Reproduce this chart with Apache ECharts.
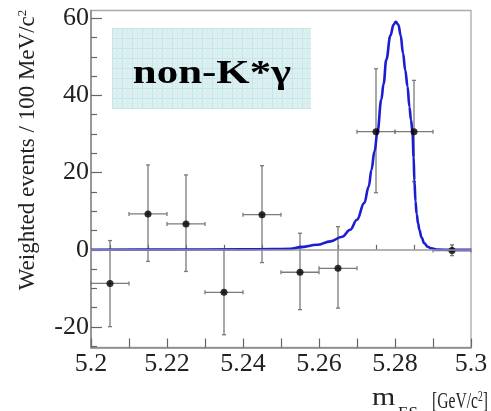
<!DOCTYPE html>
<html><head><meta charset="utf-8">
<script src="https://cdn.jsdelivr.net/npm/echarts@6/dist/echarts.min.js"></script>
<style>html,body{margin:0;padding:0;background:#fff}#c{width:491px;height:411px}</style>
</head><body><div id="c"></div><script>
// ---- data ----
const binCenters = [5.205, 5.215, 5.225, 5.235, 5.245, 5.255, 5.265, 5.275, 5.285, 5.295];
const values     = [-8.7, 9.3, 6.7, -11.0, 9.1, -5.8, -4.8, 30.6, 30.6, -0.2];
const errUp      = [11.1, 12.7, 12.7, 11.0, 12.7, 10.1, 10.8, 16.3, 13.3, 1.5];
const errDown    = [11.2, 12.3, 12.3, 11.0, 12.4, 9.7, 10.3, 15.8, 12.9, 1.3];
const binHalfWidth = 0.005;
const curveX = [5.200, 5.220, 5.240, 5.2480, 5.2525, 5.2551, 5.2595, 5.2630, 5.2661, 5.2682, 5.2700, 5.2719, 5.2731, 5.2738, 5.2746, 5.2754, 5.2764, 5.2770, 5.2777, 5.2788, 5.2796, 5.2802, 5.2809, 5.2815, 5.2821, 5.2827, 5.2833, 5.2838, 5.2842, 5.2846, 5.2849, 5.2851, 5.2854, 5.2857, 5.2861, 5.2864, 5.2870, 5.2877, 5.2886, 5.2895, 5.2912, 5.2950, 5.3000];
const curveY = [0.03, 0.06, 0.13, 0.2, 0.26, 0.7, 1.3, 2.2, 3.4, 5.2, 7.8, 12.1, 16.4, 20.7, 25.5, 30.6, 38.9, 43.0, 49.2, 55.5, 58.3, 59.1, 58.3, 55.5, 51.0, 46.5, 42.3, 37.0, 33.7, 30.6, 24.0, 18.0, 12.5, 9.3, 6.8, 5.2, 3.2, 1.7, 0.8, 0.4, 0.05, 0.0, 0.0];
const xLabelValues = [5.2, 5.22, 5.24, 5.26, 5.28, 5.3];
const xMajorTicks = [5.2, 5.21, 5.22, 5.23, 5.24, 5.25, 5.26, 5.27, 5.28, 5.29, 5.3];
const xMinorTicks = [5.205, 5.215, 5.225, 5.235, 5.245, 5.255, 5.265, 5.275, 5.285, 5.295];
const yLabelValues = [-20, 0, 20, 40, 60];
const yMinorTicks = [-25, -15, -10, -5, 5, 10, 15, 25, 30, 35, 45, 50, 55];
const xRange = [5.2, 5.3];
const yRange = [-25.3, 62];
const boxText = 'non-K*γ';

// ---- pattern for the label box ----
const pc = document.createElement('canvas');
pc.width = 10; pc.height = 10;
const g = pc.getContext('2d');
g.fillStyle = '#dcf0f2'; g.fillRect(0, 0, 10, 10);
g.fillStyle = '#c6e5e8'; g.fillRect(0, 0, 10, 1); g.fillRect(0, 0, 1, 10);
g.fillStyle = '#d3ecee'; g.fillRect(0, 5, 10, 1); g.fillRect(5, 0, 1, 10);

const chart = echarts.init(document.getElementById('c'), null, {renderer: 'canvas'});
const serif = '"Liberation Serif", "DejaVu Serif", serif';
const barData = binCenters.map((x, i) => [x, values[i], values[i] - errDown[i], values[i] + errUp[i], binHalfWidth]);
const curveData = curveX.map((x, i) => [x, curveY[i]]);
const pointData = binCenters.map((x, i) => [x, values[i]]);

const fmtX = v => String(+(+v).toFixed(2));

chart.setOption({
  animation: false,
  backgroundColor: '#fff',
  grid: {left: 91, right: 20, top: 10.5, bottom: 63.5, show: true, borderColor: '#aaa', borderWidth: 1.3, backgroundColor: 'transparent'},
  xAxis: [{
    type: 'value', min: xRange[0], max: xRange[1], position: 'bottom',
    axisLine: {show: true, onZero: false, lineStyle: {color: '#888', width: 1.5}},
    axisTick: {show: true, inside: true, length: 9, customValues: xMajorTicks, lineStyle: {color: '#666', width: 1.2}},
    axisLabel: {show: true, customValues: xLabelValues, formatter: fmtX, fontFamily: serif, fontSize: 26, color: '#222', margin: 4},
    splitLine: {show: false}
  }, {
    type: 'value', min: xRange[0], max: xRange[1], position: 'bottom',
    axisLine: {show: false},
    axisTick: {show: true, inside: true, length: 5, customValues: xMinorTicks, lineStyle: {color: '#666', width: 1.2}},
    axisLabel: {show: false}, splitLine: {show: false}
  }],
  yAxis: [{
    type: 'value', min: yRange[0], max: yRange[1], position: 'left',
    axisLine: {show: true, onZero: false, lineStyle: {color: '#888', width: 1.5}},
    axisTick: {show: true, inside: true, length: 11, customValues: yLabelValues, lineStyle: {color: '#666', width: 1.2}},
    axisLabel: {show: true, customValues: yLabelValues, fontFamily: serif, fontSize: 26, color: '#222', margin: 2},
    splitLine: {show: false}
  }, {
    type: 'value', min: yRange[0], max: yRange[1], position: 'left',
    axisLine: {show: false},
    axisTick: {show: true, inside: true, length: 6, customValues: yMinorTicks, lineStyle: {color: '#666', width: 1.2}},
    axisLabel: {show: false}, splitLine: {show: false}
  }],
  series: [{
    type: 'line', data: [], xAxisIndex: 0, yAxisIndex: 0, z: 1,
    markLine: {silent: true, symbol: 'none', label: {show: false}, lineStyle: {color: '#999', width: 1.5, type: 'solid'}, data: [{yAxis: 0}]}
  }, {
    type: 'custom', xAxisIndex: 0, yAxisIndex: 0, z: 2,
    data: barData,
    encode: {x: 0, y: 1},
    renderItem: function (params, api) {
      const x = api.value(0), y = api.value(1), lo = api.value(2), hi = api.value(3), hw = api.value(4);
      const pLo = api.coord([x, lo]), pHi = api.coord([x, hi]);
      const pL = api.coord([x - hw, y]), pR = api.coord([x + hw, y]);
      const st = {stroke: '#7a7a7a', lineWidth: 1.3};
      const c = 2;
      return {type: 'group', children: [
        {type: 'line', shape: {x1: pLo[0], y1: pLo[1], x2: pHi[0], y2: pHi[1]}, style: st},
        {type: 'line', shape: {x1: pL[0], y1: pL[1], x2: pR[0], y2: pR[1]}, style: st},
        {type: 'line', shape: {x1: pHi[0] - c, y1: pHi[1], x2: pHi[0] + c, y2: pHi[1]}, style: st},
        {type: 'line', shape: {x1: pLo[0] - c, y1: pLo[1], x2: pLo[0] + c, y2: pLo[1]}, style: st},
        {type: 'line', shape: {x1: pL[0], y1: pL[1] - c, x2: pL[0], y2: pL[1] + c}, style: st},
        {type: 'line', shape: {x1: pR[0], y1: pR[1] - c, x2: pR[0], y2: pR[1] + c}, style: st}
      ]};
    }
  }, {
    type: 'line', data: curveData, xAxisIndex: 0, yAxisIndex: 0, z: 3,
    showSymbol: false, smooth: 0.4, smoothMonotone: 'x',
    lineStyle: {color: '#1c1cd2', width: 2.6}
  }, {
    type: 'scatter', data: pointData, xAxisIndex: 0, yAxisIndex: 0, z: 4,
    symbol: 'circle', symbolSize: 7, itemStyle: {color: '#000'}
  }],
  graphic: [
    {type: 'rect', left: 112, top: 28, z: 10, shape: {width: 199, height: 81}, style: {fill: {image: pc, repeat: 'repeat'}}},
    {type: 'text', z: 11, x: 212, y: 74, scaleX: 1.3, scaleY: 1.05,
      style: {text: boxText, font: 'bold 33px ' + serif, fill: '#000', align: 'center', verticalAlign: 'middle'}},
    {type: 'text', z: 11, x: 28, y: 150, rotation: Math.PI / 2,
      style: {text: 'Weighted events / 100 MeV/c{s|2}', font: '23px ' + serif, fill: '#222', align: 'center', verticalAlign: 'middle',
        rich: {s: {fontSize: 13, fontFamily: serif, verticalAlign: 'top', padding: [0, 0, 10, 0]}}}},
    {type: 'text', z: 11, x: 372, y: 411, scaleX: 1.15,
      style: {text: 'm', font: '26px ' + serif, fill: '#222', align: 'left', verticalAlign: 'bottom'}},
    {type: 'text', z: 11, x: 398, y: 405, style: {text: 'ES', font: '17px ' + serif, fill: '#222', align: 'left', verticalAlign: 'top'}},
    {type: 'text', z: 11, x: 432, y: 413, scaleX: 0.68,
      style: {text: '[GeV/c{s|2}]', font: '23px ' + serif, fill: '#222', align: 'left', verticalAlign: 'bottom',
        rich: {s: {fontSize: 14, fontFamily: serif, padding: [0, 0, 8, 0]}}}}
  ]
});
</script></body></html>
